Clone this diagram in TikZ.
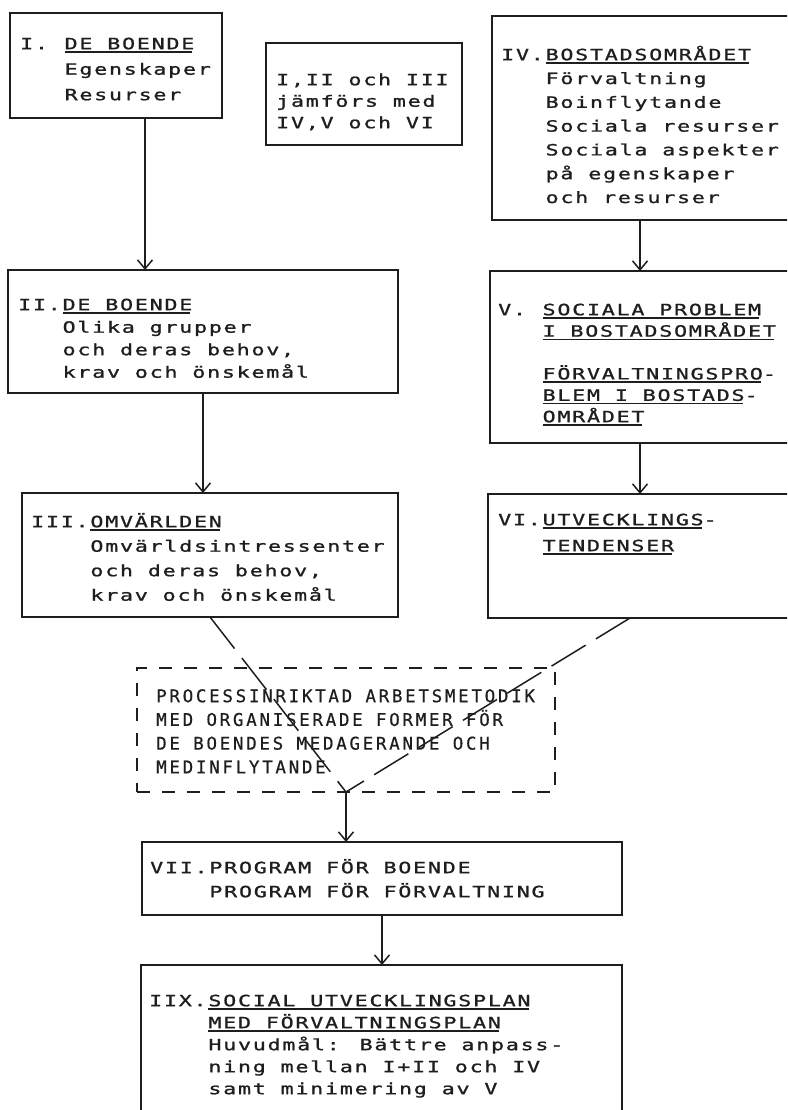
\documentclass[tikz,border=0pt]{standalone}
\usepackage{fontspec}
\usepackage{tikz}
\usetikzlibrary{arrows.meta,calc}
\newfontfamily\typefont[LetterSpace=11.2, FakeStretch=1.4, FakeBold=1.2]{DejaVu Sans Mono}
\newfontfamily\procfont[LetterSpace=15.5, FakeBold=0.6]{DejaVu Sans Mono}
\definecolor{ink}{HTML}{1E1E1E}
\newlength\chw \setlength\chw{14.8pt}
\newcommand\nr[2]{\makebox[#1\chw][l]{#2}}
\newcommand\uln[1]{\setbox0\hbox{#1}\rlap{\rule[-3.5pt]{\dimexpr\wd0-2pt\relax}{1.5pt}}\box0}
\newcommand\fl{\rule{0pt}{16pt}}
\tikzset{
  >={Straight Barb[length=9pt,width=15pt]},
  stage/.style={draw=ink, line width=1.6pt, anchor=north west, inner sep=0pt, outer sep=0pt},
  procbox/.style={stage, dash pattern=on 13pt off 12pt},
  txt/.style={anchor=north west, inner sep=0pt, align=left, text=ink,
              font=\typefont\fontsize{15.5}{#1}\selectfont},
  txt/.default=23,
  ptxt/.style={anchor=north west, inner sep=0pt, align=left, text=ink,
               font=\procfont\fontsize{17.5}{23.7}\selectfont},
  flow/.style={->, draw=ink, line width=1.5pt},
  feed/.style={draw=ink, line width=1.5pt, dash pattern=on 40pt off 12pt},
}

\begin{document}
\begin{tikzpicture}[x=1pt,y=-1pt]
  \path[use as bounding box, clip] (0,0) rectangle (787,1110);

  % boende och omvärld
  \node[stage, minimum width=212, minimum height=105] (boende1) at (10,13) {};
  \node[txt=25.5] (boende1t) at ([xshift=10,yshift=-20]boende1.north west)
    {\fl\nr{3}{I.}\uln{DE BOENDE}\\ \nr{3}{}Egenskaper\\ \nr{3}{}Resurser};

  \node[stage, minimum width=390, minimum height=123] (boende2) at (8,270) {};
  \node[txt=22.5] (boende2t) at ([xshift=10,yshift=-24]boende2.north west)
    {\fl\nr{3}{II.}\uln{DE BOENDE}\\ \nr{3}{}Olika grupper\\
     \nr{3}{}och deras behov,\\ \nr{3}{}krav och önskemål};

  \node[stage, minimum width=376, minimum height=124] (omvarld) at (22,493) {};
  \node[txt=24.5] (omvarldt) at ([xshift=9,yshift=-18]omvarld.north west)
    {\fl\nr{4}{III.}\uln{OMVÄRLDEN}\\ \nr{4}{}Omvärldsintressenter\\
     \nr{4}{}och deras behov,\\ \nr{4}{}krav och önskemål};

  % jämförelse
  \node[stage, minimum width=196, minimum height=102] (info) at (266,43) {};
  \node[txt=21.5] (infot) at ([xshift=10,yshift=-26]info.north west)
    {\fl I,II och III\\ jämförs med\\ IV,V och VI};

  % bostadsområdet
  \node[stage, minimum width=308, minimum height=204] (bostad) at (492,16) {};
  \node[txt=23.8] (bostadt) at ([xshift=9,yshift=-28]bostad.north west)
    {\fl\nr{3}{IV.}\uln{BOSTADSOMRÅDET}\\ \nr{3}{}Förvaltning\\ \nr{3}{}Boinflytande\\
     \nr{3}{}Sociala resurser\\ \nr{3}{}Sociala aspekter\\
     \nr{3}{}på egenskaper\\ \nr{3}{}och resurser};

  \node[stage, minimum width=310, minimum height=172] (problem) at (490,271) {};
  \node[txt=21.4] (problemt) at ([xshift=8,yshift=-28]problem.north west)
    {\fl\nr{3}{V.}\uln{SOCIALA PROBLEM}\\ \nr{3}{}\uln{I BOSTADSOMRÅDET}\\[21.4pt]
     \nr{3}{}\uln{FÖRVALTNINGSPRO}-\\ \nr{3}{}\uln{BLEM I BOSTADS}-\\
     \nr{3}{}\uln{OMRÅDET}};

  \node[stage, minimum width=312, minimum height=124] (tendens) at (488,494) {};
  \node[txt=26] (tendenst) at ([xshift=10,yshift=-15]tendens.north west)
    {\fl\nr{3}{VI.}\uln{UTVECKLINGS}-\\ \nr{3}{}\uln{TENDENSER}};

  % arbetsmetodik
  \node[procbox, minimum width=418, minimum height=124] (process) at (137,668) {};
  \node[ptxt] (processt) at ([xshift=19,yshift=-18]process.north west)
    {\fl PROCESSINRIKTAD ARBETSMETODIK\\ MED ORGANISERADE FORMER FÖR\\
     DE BOENDES MEDAGERANDE OCH\\ MEDINFLYTANDE};

  % program och plan
  \node[stage, minimum width=480, minimum height=73] (program) at (142,842) {};
  \node[txt=24] (programt) at ([xshift=8,yshift=-15]program.north west)
    {\fl\nr{4}{VII.}PROGRAM FÖR BOENDE\\ \nr{4}{}PROGRAM FÖR FÖRVALTNING};

  \node[stage, minimum width=481, minimum height=160] (plan) at (141,965) {};
  \node[txt=22] (plant) at ([xshift=8,yshift=-25]plan.north west)
    {\fl\nr{4}{IIX.}\uln{SOCIAL UTVECKLINGSPLAN}\\ \nr{4}{}\uln{MED FÖRVALTNINGSPLAN}\\
     \nr{4}{}Huvudmål: Bättre anpass-\\ \nr{4}{}ning mellan I+II och IV\\
     \nr{4}{}samt minimering av V};

  % pilar
  \coordinate (a1) at ([xshift=29]boende1.south);
  \draw[flow] (a1) -- (a1 |- boende2.north);
  \draw[flow] (boende2.south) -- (boende2.south |- omvarld.north);
  \coordinate (a4) at ([xshift=-6]bostad.south);
  \draw[flow] (a4) -- (a4 |- problem.north);
  \coordinate (a5) at ([xshift=-5]problem.south);
  \draw[flow] (a5) -- (a5 |- tendens.north);
  \coordinate (a6) at ([xshift=-14]tendens.south);
  \draw[feed] (omvarld.south) -- (process.south);
  \draw[feed] (a6) -- (process.south);
  \draw[flow] (process.south) -- (process.south |- program.north);
  \draw[flow] (program.south) -- (program.south |- plan.north);

\end{tikzpicture}
\end{document}
